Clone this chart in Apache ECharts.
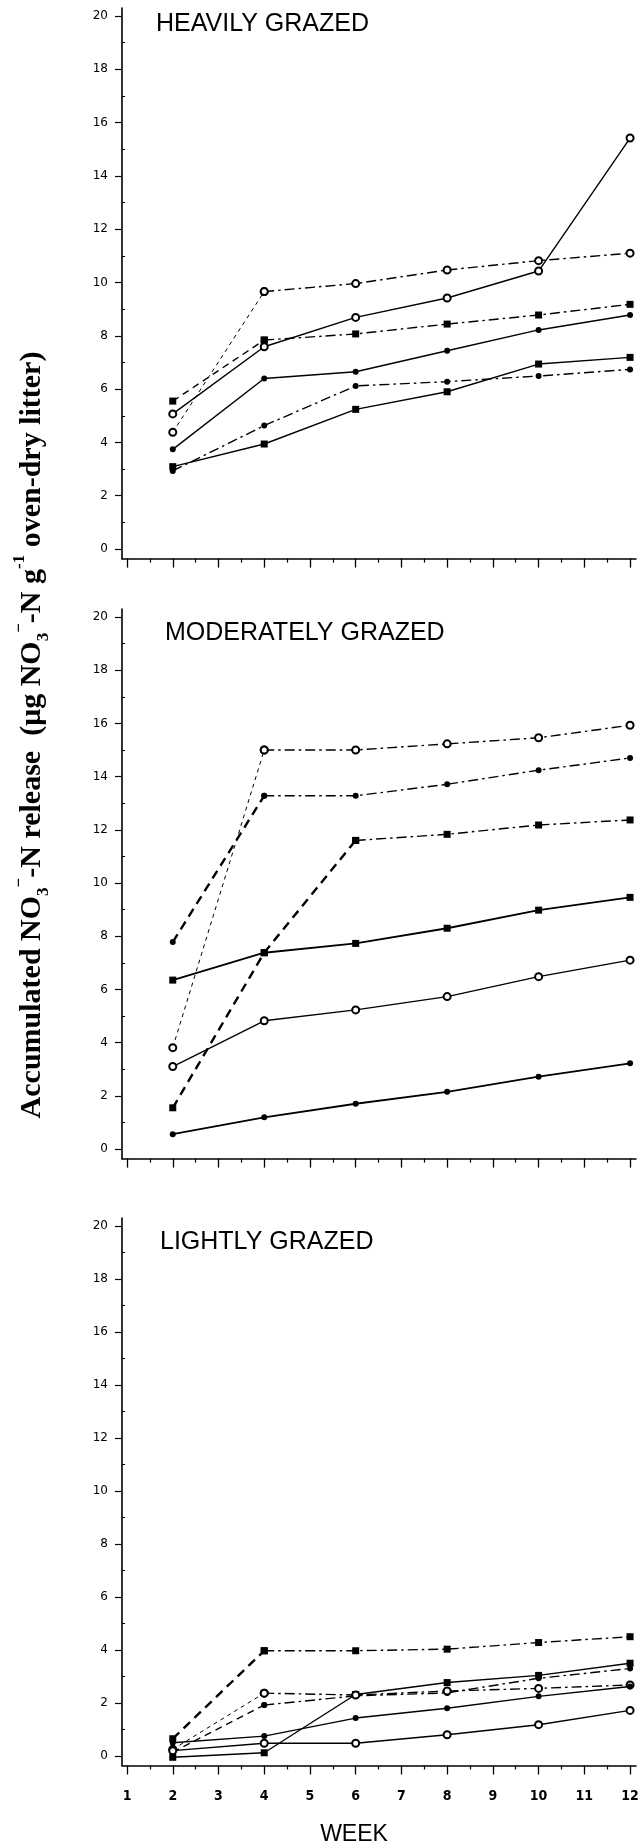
<!DOCTYPE html>
<html>
<head>
<meta charset="utf-8">
<script src="https://cdn.jsdelivr.net/npm/echarts@6/dist/echarts.min.js"></script>
<style>
html,body{margin:0;padding:0;background:#fff;}
#chart{width:638px;height:1847px;}
</style>
</head>
<body>
<div id="chart"></div>
<script>
// ---------- data ----------
const weeks = [2, 4, 6, 8, 10, 12];
const weekTicks = [1, 2, 3, 4, 5, 6, 7, 8, 9, 10, 11, 12];
const halfWeekTicks = [1.5, 2.5, 3.5, 4.5, 5.5, 6.5, 7.5, 8.5, 9.5, 10.5, 11.5];
const yTicks = [0, 2, 4, 6, 8, 10, 12, 14, 16, 18, 20];
const yMinorTicks = [1, 3, 5, 7, 9, 11, 13, 15, 17, 19];
const panelTitles = ['HEAVILY GRAZED', 'MODERATELY GRAZED', 'LIGHTLY GRAZED'];
const xAxisTitle = 'WEEK';

// Heavily grazed
const heavyOpenSolid   = [5.07, 7.59, 8.69, 9.42, 10.43, 15.42];
const heavyOpenDash    = [4.38, 9.66, 9.96, 10.47, 10.82, 11.10];
const heavySquareDash  = [5.55, 7.84, 8.07, 8.44, 8.78, 9.18];
const heavyDotSolid    = [3.74, 6.40, 6.65, 7.44, 8.22, 8.78];
const heavySquareSolid = [3.09, 3.94, 5.24, 5.90, 6.94, 7.19];
const heavyDotDash     = [2.93, 4.63, 6.12, 6.28, 6.49, 6.74];

// Moderately grazed
const modOpenDash    = [3.81, 15.00, 15.00, 15.23, 15.46, 15.93];
const modDotDash     = [7.78, 13.28, 13.28, 13.71, 14.24, 14.70];
const modSquareDash  = [1.55, 7.38, 11.60, 11.83, 12.18, 12.37];
const modSquareSolid = [6.35, 7.38, 7.73, 8.30, 8.98, 9.46];
const modOpenSolid   = [3.10, 4.82, 5.23, 5.73, 6.48, 7.10];
const modDotSolid    = [0.56, 1.19, 1.70, 2.15, 2.72, 3.22];

// Lightly grazed
const lightSquareDash  = [0.65, 3.97, 3.97, 4.03, 4.28, 4.50];
const lightSquareSolid = [-0.05, 0.12, 2.32, 2.77, 3.04, 3.50];
const lightDotDash     = [0.15, 1.92, 2.27, 2.38, 2.93, 3.30];
const lightOpenDash    = [0.25, 2.37, 2.30, 2.45, 2.55, 2.68];
const lightDotSolid    = [0.50, 0.75, 1.43, 1.80, 2.25, 2.62];
const lightOpenSolid   = [0.20, 0.48, 0.48, 0.80, 1.18, 1.72];

// ---------- styles ----------
const MARK = {
  open:   { symbol: 'circle', symbolSize: 7, itemStyle: { color: '#fff', borderColor: '#000', borderWidth: 2 } },
  dot:    { symbol: 'circle', symbolSize: 6, itemStyle: { color: '#000', borderWidth: 0 } },
  square: { symbol: 'rect',   symbolSize: 7, itemStyle: { color: '#000', borderWidth: 0 } }
};
const LINE = {
  solid:     { type: 'solid', width: 1.4 },
  solidBold: { type: 'solid', width: 1.9 },
  dashDot:   { type: [10, 4, 2.5, 4], width: 1.4 },
  dashBold:  { type: [9, 6], width: 2.4 },
  dashMed:   { type: [7, 5], width: 1.4 },
  dashFine:  { type: [4, 4], width: 1 }
};

const panels = [
  [
    { data: heavyOpenSolid,   mark: 'open',   line: 'solid' },
    { data: heavyOpenDash,    mark: 'open',   line: 'dashDot', head: 1, headLine: 'dashFine' },
    { data: heavySquareDash,  mark: 'square', line: 'dashDot', head: 1, headLine: 'dashMed' },
    { data: heavyDotSolid,    mark: 'dot',    line: 'solid' },
    { data: heavySquareSolid, mark: 'square', line: 'solid' },
    { data: heavyDotDash,     mark: 'dot',    line: 'dashDot' }
  ],
  [
    { data: modOpenDash,    mark: 'open',   line: 'dashDot', head: 1, headLine: 'dashFine' },
    { data: modDotDash,     mark: 'dot',    line: 'dashDot', head: 1, headLine: 'dashBold' },
    { data: modSquareDash,  mark: 'square', line: 'dashDot', head: 2, headLine: 'dashBold' },
    { data: modSquareSolid, mark: 'square', line: 'solidBold' },
    { data: modOpenSolid,   mark: 'open',   line: 'solid' },
    { data: modDotSolid,    mark: 'dot',    line: 'solidBold' }
  ],
  [
    { data: lightSquareDash,  mark: 'square', line: 'dashDot', head: 1, headLine: 'dashBold' },
    { data: lightSquareSolid, mark: 'square', line: 'solid' },
    { data: lightDotDash,     mark: 'dot',    line: 'dashDot', head: 1, headLine: 'dashMed' },
    { data: lightOpenDash,    mark: 'open',   line: 'dashDot', head: 1, headLine: 'dashFine' },
    { data: lightDotSolid,    mark: 'dot',    line: 'solid' },
    { data: lightOpenSolid,   mark: 'open',   line: 'solid' }
  ]
];

// ---------- layout ----------
const X_MIN = 0.89, X_MAX = 12.13;
const Y_MIN = -0.36, Y_MAX = 20.3;
const gridBoxes = [
  { top: 8,    height: 550.6 },
  { top: 609,  height: 549.6 },
  { top: 1218, height: 547.5 }
];
const titlePos = [
  { left: 156, top: 12 },
  { left: 165, top: 621 },
  { left: 160, top: 1230 }
];

const grid = gridBoxes.map(g => ({
  left: 122, width: 514, top: g.top, height: g.height,
  containLabel: false, outerBoundsMode: 'none'
}));

const xAxis = [], yAxis = [], series = [];
gridBoxes.forEach((g, i) => {
  xAxis.push({
    gridIndex: i, type: 'value', min: X_MIN, max: X_MAX, position: 'bottom',
    axisLine: { show: true, onZero: false, lineStyle: { color: '#000', width: 1.6 } },
    axisTick: { show: true, customValues: weekTicks, length: 9, lineStyle: { color: '#000', width: 1.3 } },
    axisLabel: {
      show: i === 2, customValues: weekTicks, margin: 24,
      fontFamily: 'DejaVu Sans Condensed', fontWeight: 'bold', fontSize: 14, color: '#000'
    },
    splitLine: { show: false }
  });
  xAxis.push({
    gridIndex: i, type: 'value', min: X_MIN, max: X_MAX, position: 'bottom',
    axisLine: { show: false, onZero: false },
    axisTick: { show: true, customValues: halfWeekTicks, length: 4, lineStyle: { color: '#000', width: 1.2 } },
    axisLabel: { show: false },
    splitLine: { show: false }
  });
  yAxis.push({
    gridIndex: i, type: 'value', min: Y_MIN, max: Y_MAX, position: 'left',
    axisLine: { show: true, onZero: false, lineStyle: { color: '#000', width: 1.6 } },
    axisTick: { show: true, customValues: yTicks, length: 7, lineStyle: { color: '#000', width: 1.2 } },
    axisLabel: { show: true, customValues: yTicks, margin: 14, fontFamily: 'DejaVu Sans', fontSize: 12, color: '#000' },
    splitLine: { show: false }
  });
  yAxis.push({
    gridIndex: i, type: 'value', min: Y_MIN, max: Y_MAX, position: 'left',
    axisLine: { show: false, onZero: false },
    axisTick: { show: true, inside: true, customValues: yMinorTicks, length: 3, lineStyle: { color: '#000', width: 1 } },
    axisLabel: { show: false },
    splitLine: { show: false }
  });

  panels[i].forEach(s => {
    const pts = weeks.map((w, k) => [w, s.data[k]]);
    const m = MARK[s.mark];
    const base = {
      type: 'line', xAxisIndex: i * 2, yAxisIndex: i * 2,
      symbol: m.symbol, symbolSize: m.symbolSize, itemStyle: m.itemStyle,
      showAllSymbol: true, silent: true, animation: false,
      emphasis: { disabled: true }
    };
    const h = s.head || 0;
    series.push(Object.assign({}, base, {
      data: pts.slice(h), lineStyle: Object.assign({ color: '#000' }, LINE[s.line])
    }));
    if (h) {
      series.push(Object.assign({}, base, {
        data: pts.slice(0, h + 1), lineStyle: Object.assign({ color: '#000' }, LINE[s.headLine])
      }));
    }
  });
});

const title = panelTitles.map((t, i) => ({
  text: t, left: titlePos[i].left, top: titlePos[i].top, padding: 0,
  textStyle: { fontFamily: 'Liberation Sans', fontSize: 25, fontWeight: 'normal', color: '#000', lineHeight: 25 }
}));

const yTitleRich = {
  b:   { fontFamily: 'Liberation Serif', fontWeight: 'bold', fontSize: 30, lineHeight: 41, fill: '#000', verticalAlign: 'middle' },
  sub: { fontFamily: 'Liberation Serif', fontWeight: 'bold', fontSize: 17, lineHeight: 17, fill: '#000', verticalAlign: 'bottom' },
  sup: { fontFamily: 'Liberation Serif', fontWeight: 'bold', fontSize: 17, lineHeight: 17, fill: '#000', verticalAlign: 'top' }
};

const option = {
  backgroundColor: '#fff',
  animation: false,
  title: title,
  grid: grid,
  xAxis: xAxis,
  yAxis: yAxis,
  series: series,
  graphic: [
    {
      type: 'text', x: 32, y: 735, rotation: Math.PI / 2, silent: true,
      style: {
        text: '{b|Accumulated NO}{sub|3}{sup|\u2212}{b|-N release  (\u03bcg NO}{sub|3}{sup|\u2212}{b|-N g}{sup|-1}{b| oven-dry litter)}',
        rich: yTitleRich, align: 'center', verticalAlign: 'middle', fill: '#000'
      }
    },
    {
      type: 'text', x: 354, y: 1835, silent: true,
      style: { text: xAxisTitle, fontFamily: 'Liberation Sans', fontSize: 23, fill: '#000', align: 'center', verticalAlign: 'middle' }
    }
  ]
};

const chart = echarts.init(document.getElementById('chart'), null, { renderer: 'canvas', width: 638, height: 1847 });
chart.setOption(option);
</script>
</body>
</html>
